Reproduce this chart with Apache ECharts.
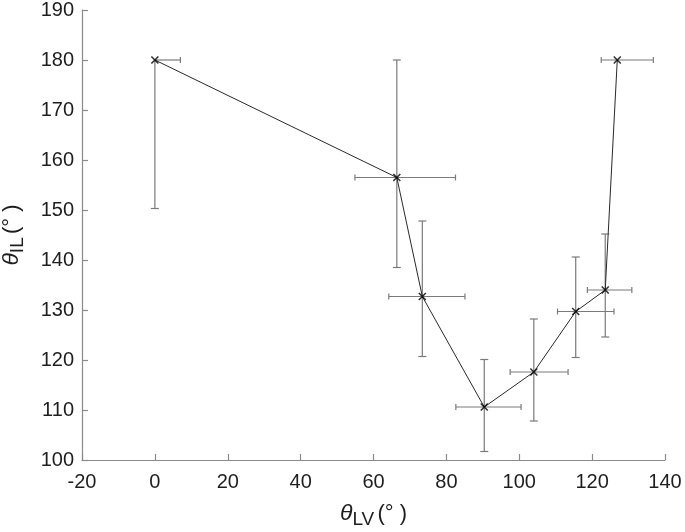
<!DOCTYPE html>
<html>
<head>
<meta charset="utf-8">
<script src="https://cdn.jsdelivr.net/npm/echarts@6/dist/echarts.min.js"></script>
<style>html,body{margin:0;padding:0;background:#fff}#c{width:685px;height:532px}</style>
</head>
<body>
<div id="c"></div>
<script>
// Data
var thetaLV   = [0,     66.4,  73.4,  90.4,  104.0, 115.5, 123.6, 126.9];
var thetaIL   = [180,   156.5, 132.7, 110.6, 117.6, 129.7, 134.0, 180];
var xLow      = [0,     54.9,  64.2,  82.6,  97.5,  110.5, 118.7, 122.5];
var xHigh     = [7.0,   82.5,  85.1,  100.5, 113.4, 126.0, 130.9, 136.8];
var yLow      = [150.3, 138.5, 120.7, 101.7, 107.8, 120.5, 124.6, 180];
var yHigh     = [180,   180,   147.8, 120.1, 128.2, 140.6, 145.2, 180];
var xTicks    = [-20, 0, 20, 40, 60, 80, 100, 120, 140];
var yTicks    = [100, 110, 120, 130, 140, 150, 160, 170, 180, 190];

var FONT = 'Liberation Sans';
var chart = echarts.init(document.getElementById('c'), null, {renderer: 'canvas'});

var points = thetaLV.map(function (x, i) { return [x, thetaIL[i]]; });
var errData = thetaLV.map(function (x, i) {
  return [x, thetaIL[i], xLow[i], xHigh[i], yLow[i], yHigh[i]];
});

function renderErr(params, api) {
  var x = api.value(0), y = api.value(1);
  var c = api.coord([x, y]);
  var pxl = api.coord([api.value(2), y]);
  var pxh = api.coord([api.value(3), y]);
  var pyl = api.coord([x, api.value(4)]);
  var pyh = api.coord([x, api.value(5)]);
  var st = {stroke: '#7a7a7a', lineWidth: 1.2, fill: null};
  var ch = [];
  function line(x1, y1, x2, y2) {
    ch.push({type: 'line', shape: {x1: x1, y1: y1, x2: x2, y2: y2}, style: st, silent: true});
  }
  var hc = 3, vc = 4;
  if (api.value(2) !== x || api.value(3) !== x) {
    line(pxl[0], c[1], pxh[0], c[1]);
    if (api.value(2) !== x) line(pxl[0], c[1] - hc, pxl[0], c[1] + hc);
    if (api.value(3) !== x) line(pxh[0], c[1] - hc, pxh[0], c[1] + hc);
  }
  if (api.value(4) !== y || api.value(5) !== y) {
    line(c[0], pyl[1], c[0], pyh[1]);
    if (api.value(4) !== y) line(c[0] - vc, pyl[1], c[0] + vc, pyl[1]);
    if (api.value(5) !== y) line(c[0] - vc, pyh[1], c[0] + vc, pyh[1]);
  }
  return {type: 'group', children: ch};
}

var axisCol = '#8a8a8a';
var labCol = '#1e1e1e';

function titleRich() {
  return {
    t: {fontFamily: FONT, fontStyle: 'italic', fontSize: 23, color: labCol},
    s: {fontFamily: FONT, fontSize: 19, color: labCol, padding: [11, 0, 0, 0]},
    n: {fontFamily: FONT, fontSize: 22, color: labCol}
  };
}

chart.setOption({
  animation: false,
  backgroundColor: '#fff',
  grid: {left: 82, right: 20, top: 10, bottom: 72, containLabel: false, outerBoundsMode: 'none'},
  xAxis: {
    type: 'value', min: xTicks[0], max: xTicks[xTicks.length - 1], interval: 20,
    axisLine: {show: true, onZero: false, lineStyle: {color: axisCol, width: 1.2}},
    axisTick: {show: true, inside: true, length: 6, lineStyle: {color: axisCol, width: 1.2}},
    splitLine: {show: false},
    axisLabel: {color: labCol, fontFamily: FONT, fontSize: 20, margin: 12},
    name: '{t|θ}{s|LV} {n|(° )}',
    nameLocation: 'middle', nameGap: 39,
    nameTextStyle: {rich: titleRich()}
  },
  yAxis: {
    type: 'value', min: yTicks[0], max: yTicks[yTicks.length - 1], interval: 10,
    axisLine: {show: true, onZero: false, lineStyle: {color: axisCol, width: 1.2}},
    axisTick: {show: true, inside: true, length: 6, lineStyle: {color: axisCol, width: 1.2}},
    splitLine: {show: false},
    axisLabel: {color: labCol, fontFamily: FONT, fontSize: 20, margin: 8},
    name: '{t|θ}{s|IL} {n|(° )}',
    nameLocation: 'middle', nameGap: 55, nameRotate: 90,
    nameTextStyle: {rich: titleRich()}
  },
  series: [
    {
      type: 'custom', renderItem: renderErr, data: errData,
      encode: {x: 0, y: 1}, z: 1, clip: false
    },
    {
      type: 'line', data: points, showSymbol: false, symbol: 'none',
      lineStyle: {color: '#2a2a2a', width: 1}, z: 2
    },
    {
      type: 'scatter', data: points,
      symbol: 'path://M0,0L10,10M10,0L0,10', symbolSize: 7,
      itemStyle: {color: 'none', borderColor: '#000', borderWidth: 1.6}, z: 3
    }
  ]
});
</script>
</body>
</html>
